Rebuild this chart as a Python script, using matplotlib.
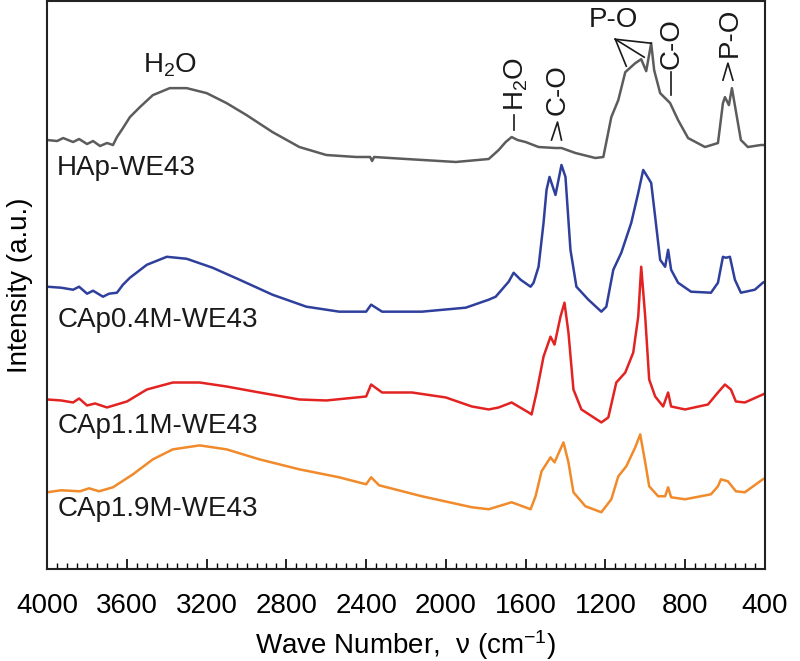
import matplotlib
matplotlib.use("Agg")
import matplotlib.pyplot as plt
from matplotlib.ticker import MultipleLocator

plt.rcParams['font.family'] = ['Liberation Sans', 'DejaVu Sans']
plt.rcParams['mathtext.fontset'] = 'custom'
plt.rcParams['mathtext.rm'] = 'Liberation Sans'
plt.rcParams['mathtext.it'] = 'Liberation Sans:italic'

# ---- data (wavenumber in cm^-1, intensity in arbitrary units, curves already offset) ----
hap_nu = [4000, 3950, 3920, 3870, 3840, 3800, 3770, 3735, 3700, 3670, 3650, 3620, 3585, 3535,
          3470, 3385, 3300, 3200, 3100, 3000, 2870, 2735, 2600, 2450, 2380, 2370, 2360, 2200,
          1950, 1785, 1735, 1700, 1670, 1640, 1600, 1535, 1450, 1420, 1350, 1250, 1210, 1170,
          1135, 1100, 1050, 1020, 995, 970, 955, 925, 875, 835, 785, 700, 635, 610, 600, 580,
          565, 520, 485, 420, 400]
hap_int = [430, 429, 432, 428, 431, 426, 429, 424, 427, 425, 433, 442, 453, 463,
           475, 482, 482, 477, 467, 455, 438, 423, 415, 413, 413, 409, 413, 411,
           408, 411, 420, 428, 433, 430, 428, 423, 422, 422, 417, 412, 413, 453,
           470, 498, 507, 511, 499, 527, 500, 477, 467, 450, 432, 423, 427, 467, 473, 465,
           482, 430, 423, 425, 425]

cap04_nu = [4000, 3930, 3870, 3840, 3800, 3770, 3720, 3690, 3650, 3620, 3585, 3500, 3400, 3300,
            3170, 3035, 2870, 2700, 2535, 2400, 2375, 2320, 2120, 1900, 1785, 1750, 1685, 1660,
            1625, 1575, 1560, 1535, 1510, 1495, 1480, 1450, 1420, 1400, 1375, 1345, 1285, 1220,
            1195, 1160, 1120, 1070, 1035, 1010, 985, 970, 950, 925, 900, 885, 870, 835, 770,
            670, 635, 610, 595, 575, 550, 520, 450, 410, 400]
cap04_int = [283, 282, 280, 283, 276, 279, 273, 276, 277, 285, 292, 305, 313, 311,
             302, 290, 275, 263, 258, 258, 265, 258, 258, 262, 270, 273, 288, 297,
             290, 283, 287, 303, 347, 380, 393, 375, 405, 393, 320, 283, 270, 258,
             263, 300, 317, 347, 377, 400, 392, 387, 353, 310, 303, 320, 300, 287, 278,
             277, 287, 313, 312, 313, 290, 277, 280, 287, 288]

cap11_nu = [4000, 3930, 3870, 3840, 3800, 3760, 3700, 3650, 3600, 3500, 3370, 3235, 3100, 2935,
            2735, 2600, 2400, 2375, 2320, 2170, 2000, 1870, 1785, 1735, 1670, 1585, 1570, 1545,
            1510, 1475, 1455, 1425, 1405, 1385, 1360, 1320, 1220, 1185, 1145, 1100, 1060, 1035,
            1020, 1000, 980, 950, 910, 885, 870, 800, 685, 635, 600, 570, 545, 500, 410, 400]
cap11_int = [170, 169, 167, 171, 164, 166, 162, 165, 168, 180, 187, 187, 183, 177,
             170, 169, 173, 185, 177, 177, 172, 163, 160, 162, 167, 157, 155, 177,
             213, 233, 225, 253, 267, 237, 180, 160, 147, 152, 187, 197, 217, 253,
             303, 253, 190, 173, 163, 177, 163, 160, 165, 177, 185, 180, 168, 167, 175, 176]

cap19_nu = [4000, 3930, 3835, 3790, 3740, 3670, 3570, 3470, 3370, 3235, 3100, 2935, 2735, 2535,
            2400, 2375, 2335, 2120, 1870, 1785, 1670, 1575, 1550, 1520, 1475, 1455, 1410, 1385,
            1360, 1300, 1220, 1170, 1135, 1095, 1050, 1025, 1000, 980, 935, 900, 885, 870, 800,
            670, 635, 620, 585, 545, 500, 410, 400]
cap19_int = [77, 79, 78, 81, 78, 82, 95, 110, 120, 124, 120, 110, 100, 92,
             85, 92, 84, 73, 62, 60, 67, 60, 73, 98, 112, 107, 127, 107,
             77, 63, 57, 70, 93, 103, 122, 135, 107, 83, 73, 73, 82, 72, 70,
             75, 83, 90, 88, 78, 77, 90, 91]

series_labels = ['HAp-WE43', 'CAp0.4M-WE43', 'CAp1.1M-WE43', 'CAp1.9M-WE43']
series_colors = ['#5c5c5c', '#2f3f9c', '#e32322', '#f08a2a']
label_y = [402, 250, 143, 60]

# ---- figure ----
fig = plt.figure(figsize=(8.0, 6.61), dpi=100)
ax = fig.add_axes([0.059, 0.139, 0.897, 0.859])

data = [(hap_nu, hap_int), (cap04_nu, cap04_int), (cap11_nu, cap11_int), (cap19_nu, cap19_int)]
for (nu, inten), col in zip(data, series_colors):
    ax.plot(nu, inten, color=col, lw=1.8, solid_joinstyle='round')

for lab, yy in zip(series_labels, label_y):
    ax.text(3950, yy, lab, fontsize=20, color='#1a1a1a', ha='left', va='center')

ax.set_xlim(4000, 400)
ax.set_ylim(0, 569)
ax.xaxis.set_major_locator(MultipleLocator(400))
ax.xaxis.set_minor_locator(MultipleLocator(50))
ax.tick_params(axis='x', which='major', direction='in', length=7, width=1.2,
               labelsize=20, pad=17, top=False)
ax.tick_params(axis='x', which='minor', direction='in', length=4, width=1.0, top=False)
ax.set_yticks([])
for s in ax.spines.values():
    s.set_linewidth(1.5)
    s.set_color('#222222')

ax.set_xlabel('Wave Number,  \u03bd (cm$^{-1}$)', fontsize=20, labelpad=7)
ax.set_ylabel('Intensity (a.u.)', fontsize=20, labelpad=10)

tc = '#1a1a1a'
# annotations
ax.text(3385, 505, 'H$_2$O', fontsize=20, ha='center', va='center', color=tc)
ax.text(1645, 486, 'H$_2$O', fontsize=20, ha='center', va='center', rotation=90, color=tc)
ax.plot([1660, 1660], [440, 455], color=tc, lw=1.2)
ax.text(1440, 481, 'C-O', fontsize=20, ha='center', va='center', rotation=90, color=tc)
ax.plot([1470, 1440, 1420], [430, 448, 430], color=tc, lw=1.2)
ax.text(1160, 550, 'P-O', fontsize=20, ha='center', va='center', color=tc)
for ex, ey in [(1095, 504), (1005, 513), (970, 527)]:
    ax.plot([1150, ex], [531, ey], color=tc, lw=1.2)
ax.text(865, 527, 'C-O', fontsize=20, ha='center', va='center', rotation=90, color=tc)
ax.plot([870, 870], [475, 498], color=tc, lw=1.2)
ax.text(575, 538, 'P-O', fontsize=20, ha='center', va='center', rotation=90, color=tc)
ax.plot([610, 585, 560], [490, 507, 490], color=tc, lw=1.2)

fig.savefig('out.png', dpi=100)
